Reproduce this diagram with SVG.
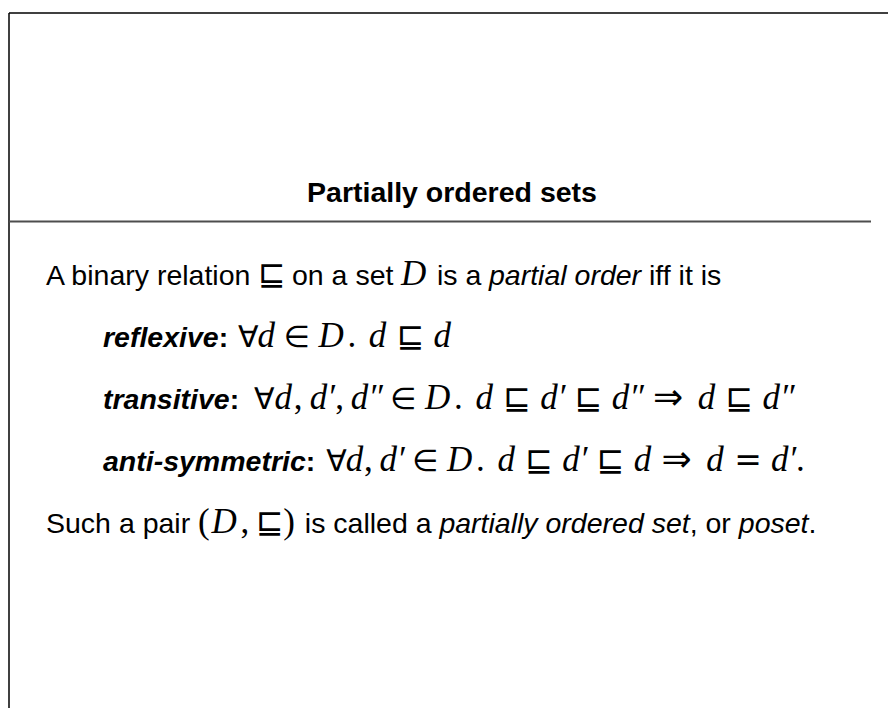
<svg xmlns="http://www.w3.org/2000/svg" width="888" height="708" viewBox="0 0 888 708">
<style>
.s{font-family:"Liberation Sans",Arial,sans-serif;font-size:28.5px;fill:#000}
.t{font-family:"Liberation Sans",Arial,sans-serif;font-size:28.5px;font-weight:bold;fill:#000}
.bi{font-weight:bold;font-style:italic}
.b{font-weight:bold}
.i{font-style:italic}
.mi{font-family:"Liberation Serif","Times New Roman",serif;font-size:35px;font-style:italic}
.mr{font-family:"Liberation Serif","Times New Roman",serif;font-size:35px}
.sy{font-family:"DejaVu Sans",sans-serif;font-size:30px}
.sq{font-family:"DejaVu Sans",sans-serif;font-size:33px}
.ar{font-family:"DejaVu Sans",sans-serif;font-size:36px}
</style>
<rect width="888" height="708" fill="#fff"/>
<g id="frame" stroke="#000" stroke-width="1.5">
<line x1="9" y1="13" x2="888" y2="13"/>
<line x1="9" y1="13" x2="9" y2="708"/>
</g>
<g id="title">
<text class="t" x="452" y="202" text-anchor="middle">Partially ordered sets</text>
<line x1="9" y1="221.5" x2="871" y2="221.5" stroke="#4d4d4d" stroke-width="2"/>
</g>
<g id="body">
<text id="line1" class="s" y="285"><tspan x="46">A binary relation</tspan><tspan class="sq" x="258">⊑</tspan><tspan x="292">on a set</tspan><tspan class="mi" x="401">D</tspan><tspan x="437">is a</tspan><tspan class="i" x="489">partial order</tspan><tspan x="649">iff it is</tspan></text>
<text id="reflexive" class="s" y="347"><tspan x="103" class="bi">reflexive</tspan><tspan class="b">:</tspan><tspan class="sy" x="238">∀</tspan><tspan class="mi" x="257.5">d</tspan><tspan class="sy" x="283.4">∈</tspan><tspan class="mi" x="318.4">D</tspan><tspan class="mr" x="347.4">.</tspan><tspan class="mi" x="368.8">d</tspan><tspan class="sq" x="396.7">⊑</tspan><tspan class="mi" x="433.6">d</tspan></text>
<text id="transitive" class="s" y="409"><tspan x="103" class="bi">transitive</tspan><tspan class="b">:</tspan><tspan class="sy" x="254">∀</tspan><tspan class="mi" x="274.6">d</tspan><tspan class="mr" x="293.8">,</tspan><tspan class="mi" x="309.8">d′</tspan><tspan class="mr" x="335.2">,</tspan><tspan class="mi" x="350.7">d″</tspan><tspan class="sy" x="390">∈</tspan><tspan class="mi" x="425">D</tspan><tspan class="mr" x="454">.</tspan><tspan class="mi" x="475.4">d</tspan><tspan class="sq" x="503.3">⊑</tspan><tspan class="mi" x="540.2">d′</tspan><tspan class="sq" x="574.8">⊑</tspan><tspan class="mi" x="611.7">d″</tspan><tspan class="ar" x="653">⇒</tspan><tspan class="mi" x="697.7">d</tspan><tspan class="sq" x="725.6">⊑</tspan><tspan class="mi" x="762.5">d″</tspan></text>
<text id="antisymmetric" class="s" y="471"><tspan x="103" class="bi">anti-symmetric</tspan><tspan class="b">:</tspan><tspan class="sy" x="326.2">∀</tspan><tspan class="mi" x="345.7">d</tspan><tspan class="mr" x="363.9">,</tspan><tspan class="mi" x="379.4">d′</tspan><tspan class="sy" x="412">∈</tspan><tspan class="mi" x="447">D</tspan><tspan class="mr" x="476">.</tspan><tspan class="mi" x="497.4">d</tspan><tspan class="sq" x="525.3">⊑</tspan><tspan class="mi" x="562.2">d′</tspan><tspan class="sq" x="596.8">⊑</tspan><tspan class="mi" x="633.7">d</tspan><tspan class="ar" x="661.6">⇒</tspan><tspan class="mi" x="706.3">d</tspan><tspan class="sq" x="734.2">=</tspan><tspan class="mi" x="771.1">d′</tspan><tspan class="mr" x="796">.</tspan></text>
<text id="poset" class="s" y="533"><tspan x="46">Such a pair</tspan><tspan class="mr" x="198">(</tspan><tspan class="mi" x="211.6">D</tspan><tspan class="mr" x="240.6">,</tspan><tspan class="sq" x="256.1">⊑</tspan><tspan class="mr" x="283.3">)</tspan><tspan x="304.8">is called a</tspan><tspan class="i" x="439.4">partially ordered set</tspan>, or <tspan class="i">poset</tspan>.</text>
</g>
</svg>
